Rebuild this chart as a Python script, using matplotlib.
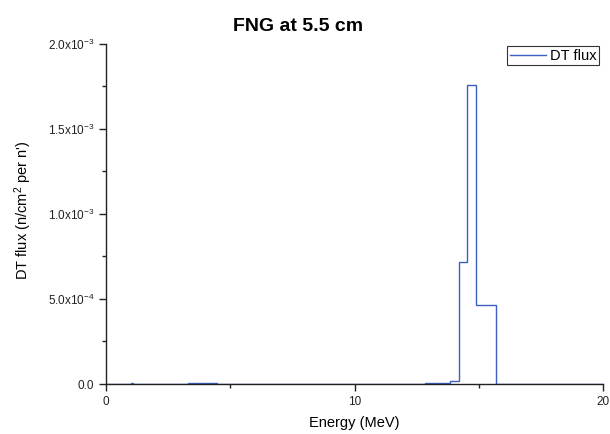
import math
import matplotlib
matplotlib.use('Agg')
import matplotlib.pyplot as plt
from matplotlib.ticker import FuncFormatter, MultipleLocator, AutoMinorLocator

plt.rcParams['font.family'] = 'Liberation Sans'
plt.rcParams['mathtext.fontset'] = 'custom'
plt.rcParams['mathtext.rm'] = 'Liberation Sans'
plt.rcParams['mathtext.it'] = 'Liberation Sans:italic'
plt.rcParams['mathtext.bf'] = 'Liberation Sans:bold'

# energy group boundaries (MeV) and flux per group
energy_edges = [0, 1.0, 1.07, 3.3, 4.47, 12.83, 13.83, 14.19, 14.54, 14.90, 15.69, 20]
dt_flux = [0, 4e-6, 0, 5e-6, 0, 6e-6, 1.8e-5, 7.18e-4, 1.757e-3, 4.62e-4, 0]

fig = plt.figure(figsize=(6.10, 4.34), dpi=100)
ax = fig.add_axes([0.1738, 0.1152, 0.815, 0.7841])

ax.stairs(dt_flux, energy_edges, color='#3c5fc4', lw=1.0, label='DT flux')

ax.set_xlim(0, 20)
ax.set_ylim(0, 2.0e-3)
ax.spines['top'].set_visible(False)
ax.spines['right'].set_visible(False)
for s in ('left', 'bottom'):
    ax.spines[s].set_color('#222222')
    ax.spines[s].set_linewidth(1.0)

ax.xaxis.set_major_locator(MultipleLocator(10))
ax.xaxis.set_minor_locator(AutoMinorLocator(2))
ax.yaxis.set_major_locator(MultipleLocator(5e-4))
ax.yaxis.set_minor_locator(AutoMinorLocator(2))
ax.tick_params(which='major', direction='out', length=5, width=1.0, labelsize=8.5, colors='#222222')
ax.tick_params(which='minor', direction='out', length=3, width=1.0, colors='#222222')


def sci(v, pos):
    if abs(v) < 1e-12:
        return '0.0'
    exp = int(math.floor(math.log10(abs(v)) + 1e-9))
    m = v / 10 ** exp
    return r'%.1fx10$^{%d}$' % (m, exp)


ax.yaxis.set_major_formatter(FuncFormatter(sci))

ax.set_xlabel('Energy (MeV)', fontsize=10.5, labelpad=6)
ax.set_ylabel("DT flux (n/cm$^2$ per n')", fontsize=10.5)
ax.yaxis.set_label_coords(-0.145, 0.51)
ax.set_title('FNG at 5.5 cm', fontsize=14, fontweight='bold', pad=9, x=0.386)

leg = ax.legend(loc='upper right', fontsize=10.5, frameon=True, fancybox=False,
                handlelength=2.5, borderpad=0.15, handletextpad=0.3,
                borderaxespad=0, bbox_to_anchor=(0.992, 0.992))
leg.get_frame().set_edgecolor('black')
leg.get_frame().set_linewidth(0.8)

fig.savefig('out.png', dpi=100)
